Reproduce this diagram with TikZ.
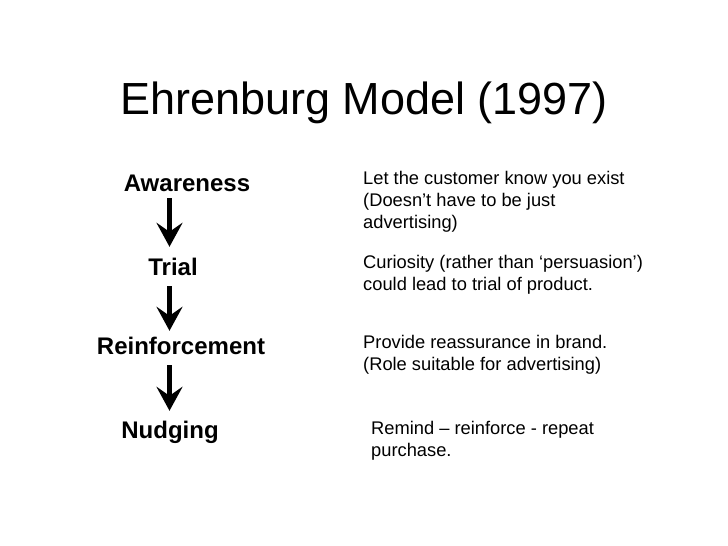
\documentclass[tikz,border=0pt]{standalone}
\usepackage{fontspec}
\setmainfont{Liberation Sans}
\usetikzlibrary{arrows.meta}
\tikzset{
  stage/.style={font=\fontsize{24}{28}\selectfont\bfseries, inner sep=0pt, anchor=base, text height=17pt, text depth=5pt},
  desc/.style={font=\fontsize{18.3}{22}\selectfont, inner sep=0pt, anchor=north west, align=left},
  bigarrow/.style={line width=5.5pt, -{Stealth[length=24pt,width=26pt,inset=9pt]}}
}
\begin{document}
\begin{tikzpicture}[x=1pt,y=-1pt]
\fill[white] (0,0) rectangle (728,546);
\useasboundingbox (0,0) rectangle (728,546);
\node[font=\fontsize{45}{50}\selectfont, inner sep=0pt, anchor=base] (title) at (364,114) {Ehrenburg Model (1997)};
\node[stage] (aw) at (187,191) {Awareness};
\node[stage] (tr) at (173,275) {Trial};
\node[stage] (re) at (181,354) {Reinforcement};
\node[stage] (nu) at (170,438) {Nudging};
\coordinate (ax) at (169.5,0);
\draw[bigarrow, shorten <=2pt, shorten >=11pt] (aw.south -| ax) -- (tr.north -| ax);
\draw[bigarrow, shorten <=6pt, shorten >=6pt] (tr.south -| ax) -- (re.north -| ax);
\draw[bigarrow, shorten <=6pt, shorten >=10pt] (re.south -| ax) -- (nu.north -| ax);
\node[desc] (d1) at (363,168.6) {\strut Let the customer know you exist\\(Doesn’t have to be just\\advertising)};
\node[desc] (d2) at (363,252.6) {\strut Curiosity (rather than ‘persuasion’)\\could lead to trial of product.};
\node[desc] (d3) at (363,332.6) {\strut Provide reassurance in brand.\\(Role suitable for advertising)};
\node[desc] (d4) at (371,418.6) {\strut Remind – reinforce - repeat\\purchase.};
\end{tikzpicture}
\end{document}
